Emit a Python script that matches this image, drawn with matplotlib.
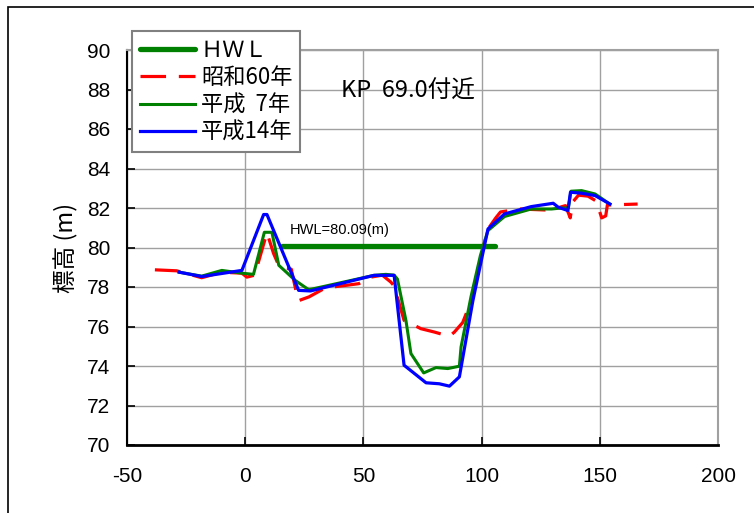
import matplotlib
matplotlib.use("Agg")
import matplotlib.pyplot as plt
from matplotlib.patches import Rectangle

plt.rcParams['font.family'] = ['Liberation Sans', 'Noto Sans CJK JP', 'DejaVu Sans']
plt.rcParams['axes.unicode_minus'] = False

# 平成14年
x_h14 = [-27.9, -18.4, -1.4, 7.8, 9.2, 22.6, 27.6, 54.5, 63.0, 67.2, 76.5, 82.1, 86.4,
         90.6, 96.3, 99.8, 102.7, 109.7, 121.0, 130.3, 132.4, 136.5, 137.6, 142.3, 148.0, 154.3]
y_h14 = [78.75, 78.53, 78.84, 81.67, 81.67, 77.83, 77.8, 78.59, 78.59, 74.04, 73.15, 73.1, 72.98,
         73.45, 77.3, 79.3, 80.94, 81.7, 82.07, 82.24, 82.04, 81.87, 82.8, 82.75, 82.63, 82.2]

# 平成 7年
x_h7 = [-27.9, -18.4, -9.9, -1.4, 3.5, 8.1, 11.3, 14.2, 21.2, 26.9, 54.5, 59.5, 63.0, 64.4,
        68.0, 70.1, 75.5, 80.7, 85.7, 90.6, 91.3, 95.5, 99.5, 102.7, 109.7, 121.0, 129.6,
        133.8, 136.7, 137.8, 142.3, 148.0, 154.2]
y_h7 = [78.75, 78.55, 78.84, 78.7, 78.64, 80.77, 80.77, 79.1, 78.33, 77.86, 78.59, 78.64, 78.6, 78.4,
        76.3, 74.63, 73.65, 73.92, 73.87, 73.99, 74.96, 77.5, 79.6, 80.86, 81.57, 81.95, 81.95,
        82.0, 82.0, 82.85, 82.88, 82.71, 82.2]

# 昭和60年
x_s60 = [-38.2, -29.0, -18.4, -9.9, -1.4, 0.7, 4.0, 9.2, 12.0, 14.5, 19.5, 22.4, 27.0, 34.0,
         41.8, 48.1, 53.1, 58.0, 61.6, 63.0, 67.2, 70.1, 74.3, 80.0, 86.4, 88.5, 92.0, 95.6,
         100.0, 102.5, 106.0, 108.0, 116.1, 126.7, 132.0, 135.5, 137.5, 138.5, 141.0, 145.0,
         148.5, 150.8, 152.5, 153.2, 166.0]
y_s60 = [78.87, 78.82, 78.47, 78.75, 78.7, 78.5, 78.6, 80.75, 79.7, 79.0, 78.9, 77.3, 77.5, 77.96,
         78.07, 78.17, 78.5, 78.6, 78.25, 78.05, 76.31, 76.15, 75.89, 75.72, 75.5, 75.72, 76.2, 77.3,
         79.6, 80.9, 81.5, 81.8, 81.95, 81.9, 82.0, 82.12, 81.5, 82.3, 82.65, 82.6,
         82.35, 81.5, 81.6, 82.15, 82.2]

# HWL
x_hwl = [15.5, 105.5]
hwl = 80.09

fig = plt.figure(figsize=(7.54, 5.13), dpi=100)
ax = fig.add_axes([127 / 754, 1 - 445 / 513, 591 / 754, 395 / 513])

green = '#008000'
ax.plot(x_hwl, [hwl, hwl], color=green, lw=3.8, solid_capstyle='round', label='ＨＷＬ', zorder=3)
ax.plot(x_s60, y_s60, color='#ff0000', lw=2.3, dashes=(8, 4), label='昭和60年', zorder=4)
ax.plot(x_h7, y_h7, color=green, lw=2.2, label='平成  7年', zorder=5)
ax.plot(x_h14, y_h14, color='#0000ff', lw=2.3, label='平成14年', zorder=6)

ax.text(19, 80.55, 'HWL=80.09(m)', fontsize=10.5,
        family=['Liberation Sans Narrow', 'Liberation Sans'], va='bottom', zorder=7)
ax.text(40.5, 87.9, 'KP  69.0付近', fontsize=17, family=['Noto Sans CJK JP'], va='center')

ax.set_xlim(-50, 200)
ax.set_ylim(70, 90)
ax.set_xticks(range(-50, 201, 50))
ax.set_yticks(range(70, 91, 2))
ax.grid(True, color='#a0a0a0', lw=1.0)
ax.set_axisbelow(True)
ax.tick_params(direction='in', length=6, width=1.2, labelsize=15, color='black')
ax.tick_params(axis='y', pad=12)
ax.tick_params(axis='x', pad=16)
for s in ('top', 'right'):
    ax.spines[s].set_color('#a0a0a0')
    ax.spines[s].set_linewidth(1.5)
ax.spines['left'].set_linewidth(1.5)
ax.spines['bottom'].set_linewidth(2.0)
ax.set_ylabel('標高 (m)', fontsize=17, family=['Noto Sans CJK JP'], labelpad=6)

fig.legend(loc='upper left', bbox_to_anchor=(132 / 754, 1 - 31 / 513),
           prop={'family': 'Noto Sans CJK JP', 'size': 16},
           handlelength=2.5, handletextpad=0.25, labelspacing=0.2, borderpad=0.35,
           borderaxespad=0, fancybox=False, framealpha=1, edgecolor='#808080')
fig.legends[0].get_frame().set_linewidth(1.5)

fig.patches.append(Rectangle((8 / 754, -0.1), 1.2, 1.1 - 7 / 513, transform=fig.transFigure,
                             fill=False, edgecolor='black', lw=1.2))

fig.savefig('out.png', dpi=100)
